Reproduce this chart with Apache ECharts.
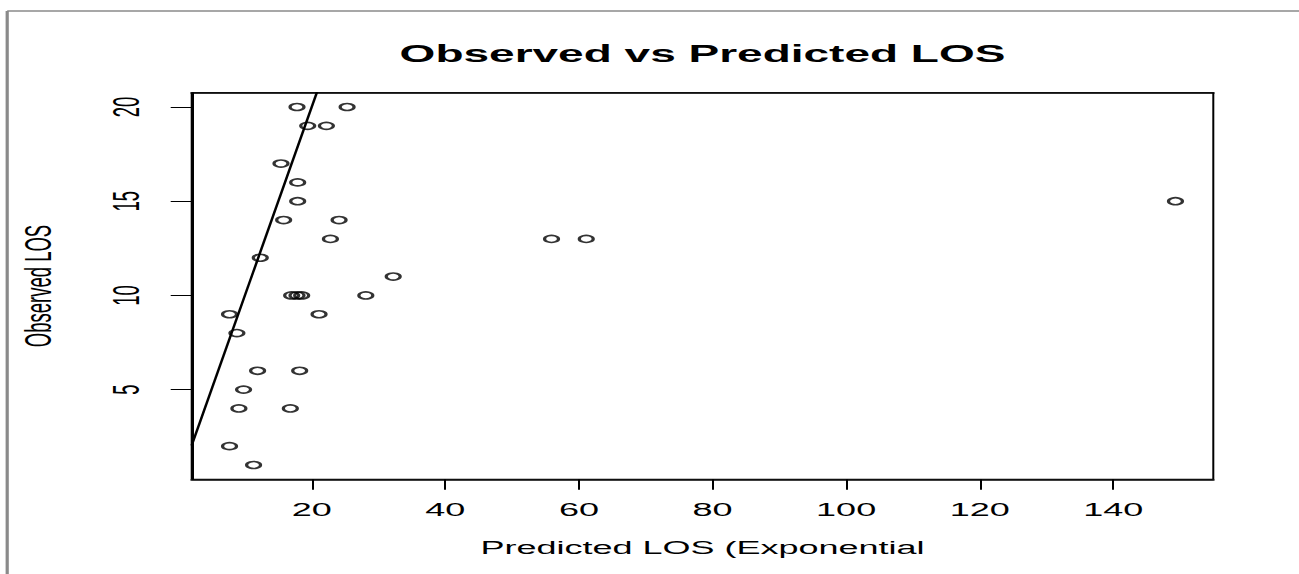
<!DOCTYPE html>
<html>
<head>
<meta charset="utf-8">
<title>Observed vs Predicted LOS</title>
<script src="https://cdn.jsdelivr.net/npm/echarts@6/dist/echarts.min.js"></script>
<style>
  html, body { margin: 0; padding: 0; background: #ffffff; overflow: hidden; width: 1299px; height: 574px; }
  /* the plot is laid out at half width and stretched horizontally */
  #chart { position: absolute; left: 0; top: 0; width: 649.5px; height: 574px; transform: scaleX(2); transform-origin: 0 0; }
</style>
</head>
<body>
<div id="chart"></div>
<script>
// Predicted LOS (exponential model) and the observed LOS for each stay
const predicted = [17.8, 25.3, 19.4, 22.2, 15.4, 17.9, 17.9, 149.3, 15.8, 24.1,
                   22.8, 55.9, 61.1, 12.3, 32.2, 17.0, 17.8, 18.5, 28.1, 7.7,
                   21.1, 8.8, 11.9, 18.2, 9.8, 9.1, 16.8, 7.7, 11.3];
const observed  = [20, 20, 19, 19, 17, 16, 15, 15, 14, 14,
                   13, 13, 13, 12, 11, 10, 10, 10, 10, 9,
                   9, 8, 6, 6, 5, 4, 4, 2, 1];
const xTicks = [20, 40, 60, 80, 100, 120, 140];
const yTicks = [5, 10, 15, 20];

// axis limits padded by 4% of the data range on each side
function padRange(values) {
  const lo = Math.min(...values), hi = Math.max(...values);
  const pad = (hi - lo) * 0.04;
  return [lo - pad, hi + pad];
}
const [xMin, xMax] = padRange(predicted);
const [yMin, yMax] = padRange(observed);

const points = predicted.map((p, i) => [p, observed[i]]);
// reference line: observed = predicted, clipped to the plot area
const identity = [[xMin, xMin], [xMax, xMax]];

const chart = echarts.init(document.getElementById('chart'), null, { renderer: 'svg' });
const font = "'Liberation Sans', Arial, Helvetica, sans-serif";
const narrow = "'Liberation Sans Narrow', 'Arial Narrow', 'Liberation Sans', Arial, sans-serif";
const frame = { stroke: '#8a8a8a', lineWidth: 1.6 };

chart.setOption({
  animation: false,
  backgroundColor: '#ffffff',
  title: {
    text: 'Observed vs Predicted LOS',
    left: 351.25,
    textAlign: 'center',
    top: 43,
    padding: 0,
    textStyle: { fontFamily: font, fontWeight: 'bold', fontSize: 23, color: '#000' }
  },
  graphic: [
    { type: 'line', shape: { x1: 3.6, y1: 11, x2: 3.6, y2: 600 }, style: frame, silent: true },
    { type: 'line', shape: { x1: 3.6, y1: 11, x2: 660, y2: 11 }, style: frame, silent: true }
  ],
  grid: {
    left: 95.85, top: 92.7, width: 510.8, height: 386.6,
    show: true, borderColor: '#000', borderWidth: 1, backgroundColor: 'transparent'
  },
  xAxis: [{
    type: 'value', min: xMin, max: xMax,
    name: 'Predicted LOS (Exponential', nameLocation: 'middle', nameGap: 59,
    nameTextStyle: { fontFamily: font, fontSize: 18, color: '#000' },
    axisLine: { show: true, onZero: false, lineStyle: { color: '#000', width: 1.6 } },
    axisTick: { show: true, inside: false, length: 10.5, customValues: xTicks, lineStyle: { color: '#000', width: 1 } },
    axisLabel: { show: true, margin: 21, customValues: xTicks, fontFamily: font, fontSize: 18, color: '#000' },
    splitLine: { show: false }
  }, {
    type: 'value', position: 'top', min: xMin, max: xMax,
    axisLine: { show: true, onZero: false, lineStyle: { color: '#000', width: 1.6 } },
    axisTick: { show: false }, axisLabel: { show: false }, splitLine: { show: false }
  }],
  yAxis: {
    type: 'value', min: yMin, max: yMax,
    name: 'Observed LOS', nameLocation: 'middle', nameGap: 67, nameRotate: 90,
    nameTextStyle: { fontFamily: narrow, fontSize: 18.5, color: '#000' },
    axisLine: { show: true, onZero: false, lineStyle: { color: '#000', width: 1 } },
    axisTick: { show: true, inside: false, length: 10.5, customValues: yTicks, lineStyle: { color: '#000', width: 1 } },
    axisLabel: { show: true, rotate: 90, margin: 23, customValues: yTicks, fontFamily: narrow, fontSize: 18.5, color: '#000' },
    splitLine: { show: false }
  },
  series: [{
    type: 'scatter',
    data: points,
    symbol: 'circle',
    symbolSize: 7,
    itemStyle: { color: 'transparent', borderColor: '#000', borderWidth: 1.6 },
    silent: true
  }, {
    type: 'line',
    data: identity,
    clip: true,
    showSymbol: false,
    lineStyle: { color: '#000', width: 1.3 },
    silent: true
  }]
});
</script>
</body>
</html>
